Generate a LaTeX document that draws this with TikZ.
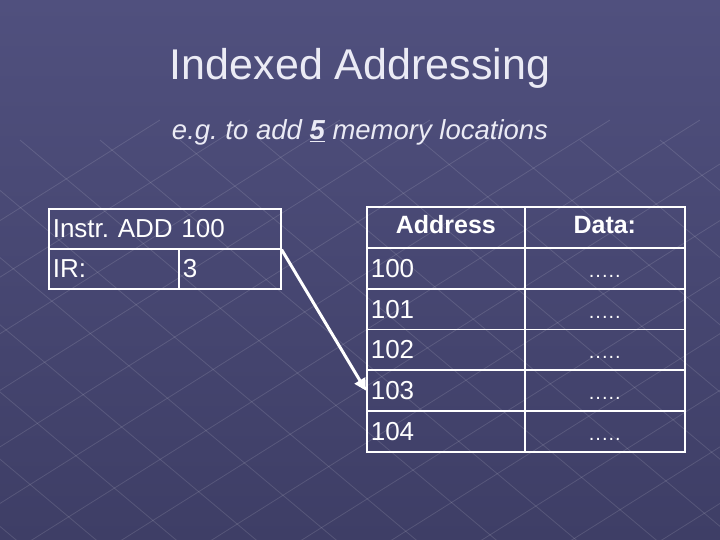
\documentclass[tikz,border=0pt]{standalone}
\usepackage{fontspec}
\setmainfont{Liberation Sans}
\usetikzlibrary{arrows.meta}
\definecolor{bgtop}{RGB}{80,80,126}
\definecolor{bgbot}{RGB}{62,62,102}
\definecolor{txt}{RGB}{235,235,245}
\tikzset{
  cell/.style={draw=white, line width=1.6pt, minimum height=41pt, inner sep=0pt, text=white, font=\fontsize{26}{28}\selectfont},
  head/.style={cell, text height=18pt, text depth=5pt, font=\bfseries\fontsize{25}{28}\selectfont},
  conn/.style={white, line width=3pt, -{Triangle[length=12pt,width=12pt]}}
}
\frenchspacing
\begin{document}
\begin{tikzpicture}[x=1pt,y=-1pt]
\shade[top color=bgtop, bottom color=bgbot] (0,0) rectangle (720,540);
\useasboundingbox (0,0) rectangle (720,540);
\begin{scope}[white, opacity=0.12, line width=0.8pt]
\foreach \i in {-6,...,10} {\draw (\i*90,560) -- (\i*90+700,120);}
\foreach \i in {-2,...,12} {\draw (\i*80-300,140) -- (\i*80+200,560);}
\end{scope}
\node[text=txt, font=\fontsize{43}{46}\selectfont] (title) at (360,68) {Indexed Addressing};
\node[text=txt, font=\itshape\fontsize{27.5}{30}\selectfont] (sub) at (360,132) {e.g. to add \textbf{\underline{5}} memory locations};
% instruction box
\node[cell, minimum width=232pt, minimum height=40pt, anchor=north west, text width=224pt, align=left] (instr) at (48,208) {Instr. ADD 100};
\node[cell, minimum width=130pt, minimum height=40pt, anchor=north west, text width=122pt, align=left] (ir) at (48,248) {IR:};
\node[cell, minimum width=102pt, minimum height=40pt, anchor=north west, text width=94pt, align=left] (irv) at (178,248) {3};
% memory table
\node[head, minimum width=158pt, anchor=north west] (ha) at (366,206) {Address};
\node[head, minimum width=160pt, anchor=north west] (hd) at (524,206) {Data:};
\foreach \a [count=\k from 0] in {100,101,102,103,104} {
  \node[cell, minimum width=158pt, text width=150pt, align=left, anchor=north west] (a\a) at (366,247+\k*40.8) {\a};
  \node[cell, minimum width=160pt, anchor=north west, text height=18pt, text depth=0pt] (d\a) at (524,247+\k*40.8) {\fontsize{20}{22}\selectfont.\kern1pt.\kern1pt.\kern1pt.\kern1pt.};
}
\draw[conn] (instr.south east) -- (a103.west);
\end{tikzpicture}
\end{document}
